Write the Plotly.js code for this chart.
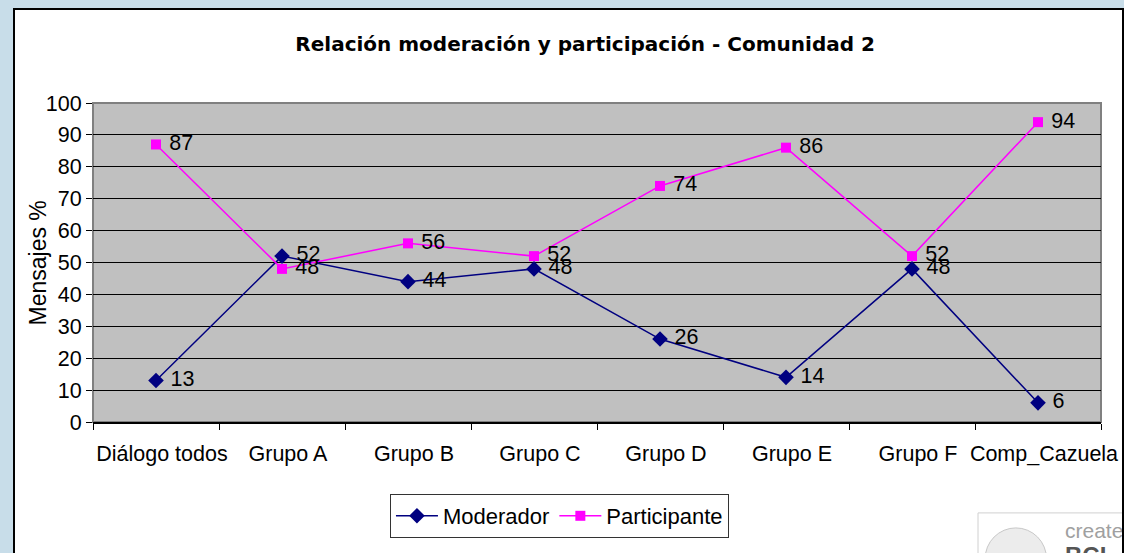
<!DOCTYPE html>
<html>
<head>
<meta charset="utf-8">
<script src="https://cdn.plot.ly/plotly-3.0.1.min.js"></script>
<style>

body{
    margin:0;
    background:#c8dde9;
    overflow:hidden;
}

#frame{
    position:absolute;
    left:13px;
    top:8px;
    width:1107px;
    height:560px;
    background:#ffffff;
    border:2px solid #000000;
}

</style>
</head>
<body>

<div id="frame">
    <div id="chart"></div>
</div>

<script>

/* ==========================================
   DATA
========================================== */

const categories = [
    "Diálogo todos",
    "Grupo A",
    "Grupo B",
    "Grupo C",
    "Grupo D",
    "Grupo E",
    "Grupo F",
    "Comp_Cazuela"
];

const moderador = [13, 52, 44, 48, 26, 14, 48, 6];

const participante = [87, 48, 56, 52, 74, 86, 52, 94];

const yTicks = [0, 10, 20, 30, 40, 50, 60, 70, 80, 90, 100];


/* ==========================================
   TRACES
========================================== */

const labelFont = {
    family:"Liberation Sans, Arial, sans-serif",
    size:21.5,
    color:"#000000"
};

// a small gap between the marker and its value
const withGap = v => "\u00a0" + v;

const traces = [

    {
        x:categories,
        y:moderador,
        name:"Moderador",
        mode:"lines+markers+text",
        text:moderador.map(withGap),
        textposition:"middle right",
        textfont:labelFont,
        line:{
            color:"#000080",
            width:1.5
        },
        marker:{
            symbol:"diamond",
            size:12,
            color:"#000080"
        },
        cliponaxis:false
    },

    {
        x:categories,
        y:participante,
        name:"Participante",
        mode:"lines+markers+text",
        text:participante.map(withGap),
        textposition:"middle right",
        textfont:labelFont,
        line:{
            color:"#ff00ff",
            width:1.5
        },
        marker:{
            symbol:"square",
            size:10,
            color:"#ff00ff"
        },
        cliponaxis:false
    }

];


/* ==========================================
   LAYOUT
========================================== */

const layout = {

    width:1107,
    height:545,

    margin:{
        l:78,
        r:21,
        t:93,
        b:133
    },

    paper_bgcolor:"#ffffff",
    plot_bgcolor:"#c0c0c0",

    font:labelFont,

    title:{
        text:"<b>Relación moderación y participación - Comunidad 2</b>",
        font:{
            family:"DejaVu Sans, Verdana, sans-serif",
            size:20,
            color:"#000000"
        },
        xref:"container",
        x:0.515,
        xanchor:"center",
        yref:"container",
        y:0.938,
        yanchor:"middle"
    },

    xaxis:{
        type:"category",
        range:[-0.5, 7.5],
        tickson:"boundaries",
        tickvals:categories,
        // labels sit slightly right of the category centre
        ticktext:categories.map(c=>"\u00a0\u00a0" + c),
        ticks:"outside",
        ticklen:6,
        tickcolor:"#000000",
        tickangle:0,
        showgrid:false,
        showline:true,
        linecolor:"#000000",
        linewidth:2,
        tickfont:labelFont,
        ticklabelstandoff:11
    },

    yaxis:{
        range:[0, 100],
        tickvals:yTicks,
        ticks:"outside",
        ticklen:6,
        tickcolor:"#000000",
        showgrid:true,
        gridcolor:"#000000",
        gridwidth:1,
        zeroline:false,
        showline:false,
        tickfont:labelFont
    },

    showlegend:true,

    legend:{
        orientation:"h",
        x:0.2946,
        xanchor:"left",
        y:-0.2257,
        yanchor:"top",
        bgcolor:"#ffffff",
        bordercolor:"#333333",
        borderwidth:1,
        itemwidth:42,
        font:{
            family:"Liberation Sans, Arial, sans-serif",
            size:22,
            color:"#000000"
        },
        itemclick:false
    },

    shapes:[

        // plot area border
        {
            type:"rect",
            xref:"paper",
            yref:"paper",
            x0:0,
            x1:1,
            y0:0,
            y1:1,
            line:{
                color:"#808080",
                width:2
            },
            layer:"between"
        },

        // watermark box
        {
            type:"rect",
            xref:"paper",
            yref:"paper",
            x0:0.878,
            x1:1.05,
            y0:-0.285,
            y1:-0.45,
            line:{
                color:"#d0d0d0",
                width:1
            },
            fillcolor:"#ffffff"
        },

        // watermark globe
        {
            type:"circle",
            xref:"paper",
            yref:"paper",
            x0:0.885,
            x1:0.946,
            y0:-0.332,
            y1:-0.527,
            line:{
                color:"#c8c8c8",
                width:1
            },
            fillcolor:"#ececec"
        }

    ],

    annotations:[

        {
            text:"Mensajes %",
            xref:"paper",
            yref:"paper",
            x:-0.0546,
            xanchor:"center",
            y:0.5,
            yanchor:"middle",
            textangle:-90,
            showarrow:false,
            font:{
                family:"Liberation Sans, Arial, sans-serif",
                size:23,
                color:"#000000"
            }
        },

        {
            text:"created",
            xref:"paper",
            yref:"paper",
            x:0.962,
            xanchor:"left",
            y:-0.339,
            yanchor:"middle",
            showarrow:false,
            font:{
                family:"Liberation Sans, Arial, sans-serif",
                size:21,
                color:"#a0a0a0"
            }
        },

        {
            text:"<b>BCL</b>",
            xref:"paper",
            yref:"paper",
            x:0.962,
            xanchor:"left",
            y:-0.42,
            yanchor:"middle",
            showarrow:false,
            font:{
                family:"Liberation Sans, Arial, sans-serif",
                size:24,
                color:"#555555"
            }
        }

    ]

};


Plotly.newPlot(

    "chart",

    traces,

    layout,

    {
        displayModeBar:false,
        staticPlot:true
    }

);

</script>
</body>
</html>
